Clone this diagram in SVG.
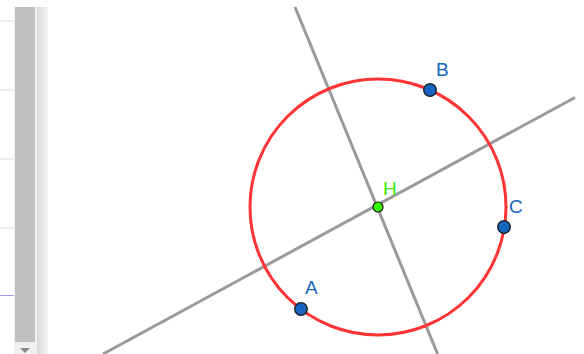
<svg xmlns="http://www.w3.org/2000/svg" width="584" height="354" viewBox="0 0 584 354">
<defs>
<style>
.ln{stroke:#9a9a9a;stroke-width:3;fill:none}
.pt{fill:#1565c0;stroke:#1a1a1a;stroke-width:1.3}
.lbl{font-family:"Liberation Sans",Arial,sans-serif;font-size:19px;fill:#1565c0}
</style>
<linearGradient id="sg" x1="0" y1="0" x2="1" y2="0">
<stop offset="0" stop-color="#d9d9d9"/>
<stop offset="1" stop-color="#f4f4f4"/>
</linearGradient>
</defs>
<rect width="584" height="354" fill="#ffffff"/>
<g id="sidebar">
<line x1="0" y1="21" x2="14" y2="21" stroke="#dddddd" stroke-width="1"/>
<line x1="0" y1="90" x2="14" y2="90" stroke="#dddddd" stroke-width="1"/>
<line x1="0" y1="159" x2="14" y2="159" stroke="#dddddd" stroke-width="1"/>
<line x1="0" y1="228" x2="14" y2="228" stroke="#dddddd" stroke-width="1"/>
<line x1="0" y1="295.5" x2="14" y2="295.5" stroke="#9c9cf0" stroke-width="1"/>
<rect x="14" y="7" width="23" height="347" fill="#f0f0f0"/>
<rect x="15" y="7" width="20" height="335" fill="#c0c0c0"/>
<rect x="37" y="7" width="11" height="347" fill="url(#sg)"/>
<polygon points="20,348 30,348 25,353" fill="#888888"/>
</g>
<g id="connectors">
<line class="ln" x1="295" y1="7" x2="437.6" y2="354"/>
<line class="ln" x1="103" y1="354" x2="575" y2="97.5"/>
</g>
<g id="circle">
<circle cx="378" cy="207" r="128" fill="none" stroke="#ff3333" stroke-width="3"/>
</g>
<g id="B"><circle class="pt" cx="430" cy="90" r="6.3"/><text class="lbl" x="436" y="76">B</text></g>
<g id="C"><circle class="pt" cx="504" cy="227" r="6.3"/><text class="lbl" x="509" y="213">C</text></g>
<g id="A"><circle class="pt" cx="301" cy="309" r="6.3"/><text class="lbl" x="305" y="294">A</text></g>
<g id="H"><circle cx="378" cy="207" r="5" fill="#33ff00" stroke="#1a1a1a" stroke-width="1.2"/><text class="lbl" x="383" y="195" style="fill:#33ee00">H</text></g>
</svg>
